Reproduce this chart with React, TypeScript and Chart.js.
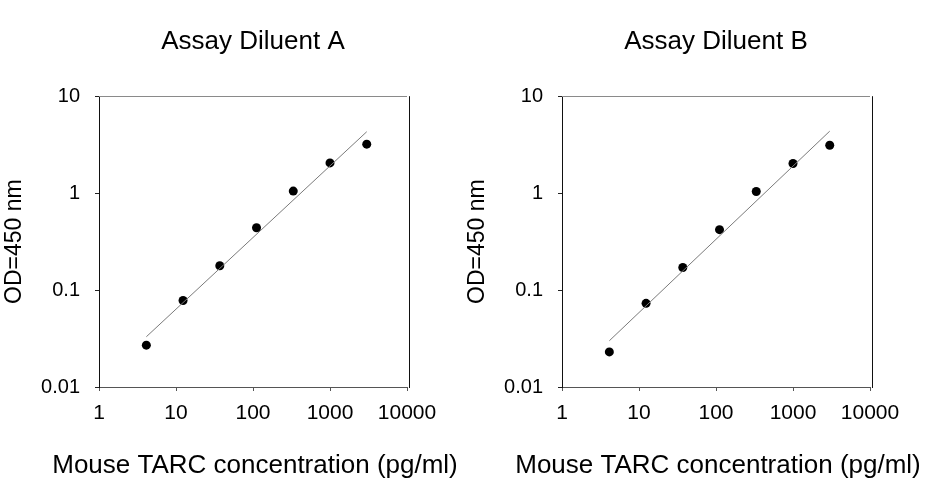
import React, { useEffect, useRef } from "react";
import { Chart, registerables } from "chart.js";

Chart.register(...registerables);

const concentrations = [4.12, 12.35, 37.04, 111.1, 333.3, 1000, 3000];
const odDiluentA = [0.027, 0.078, 0.178, 0.44, 1.05, 2.05, 3.2];
const odDiluentB = [0.023, 0.073, 0.171, 0.42, 1.04, 2.02, 3.12];
const fitX = [4.12, 3000];
const fitDiluentA = [0.033, 4.3];
const fitDiluentB = [0.03, 4.36];
const xTickValues = [1, 10, 100, 1000, 10000];
const yTickValues = [0.01, 0.1, 1, 10];
const xAxisTitle = "Mouse TARC concentration (pg/ml)";
const yAxisTitle = "OD=450 nm";

const FONT = "Arial, Helvetica, sans-serif";

const framePlugin = {
  id: "frame",
  afterDatasetsDraw(chart: any) {
    const { ctx, chartArea } = chart;
    const { left, right, top, bottom } = chartArea;
    ctx.save();
    ctx.lineWidth = 1;
    ctx.strokeStyle = "#8a8a8a";
    ctx.beginPath();
    ctx.moveTo(left, Math.round(top) + 0.5);
    ctx.lineTo(right, Math.round(top) + 0.5);
    ctx.stroke();
    ctx.strokeStyle = "#111";
    ctx.beginPath();
    ctx.moveTo(Math.round(right) + 2.5, top);
    ctx.lineTo(Math.round(right) + 2.5, bottom + 1);
    ctx.stroke();
    ctx.restore();
  },
  afterDraw(chart: any) {
    const { ctx, chartArea } = chart;
    ctx.save();
    ctx.fillStyle = "#000";
    ctx.font = `normal 26px ${FONT}`;
    ctx.textAlign = "center";
    ctx.textBaseline = "alphabetic";
    ctx.fillText(xAxisTitle, (chartArea.left + chartArea.right) / 2 + 2, 473);
    ctx.restore();
  },
};

function Panel({ title, values, fit }: { title: string; values: number[]; fit: number[] }) {
  const ref = useRef<HTMLCanvasElement | null>(null);
  useEffect(() => {
    if (!ref.current) return;
    const chart = new Chart(ref.current, {
      type: "scatter",
      data: {
        datasets: [
          {
            label: "fit",
            data: fitX.map((x, i) => ({ x, y: fit[i] })),
            showLine: true,
            borderColor: "#7a7a7a",
            borderWidth: 1,
            pointRadius: 0,
            fill: false,
          },
          {
            label: "data",
            data: concentrations.map((x, i) => ({ x, y: values[i] })),
            showLine: false,
            pointRadius: 4.5,
            pointBackgroundColor: "#000",
            pointBorderColor: "#000",
            pointBorderWidth: 0,
          },
        ],
      },
      options: {
        animation: false,
        responsive: false,
        devicePixelRatio: 1,
        layout: { padding: { left: 0, right: 56, top: 0, bottom: 0 } },
        plugins: {
          legend: { display: false },
          tooltip: { enabled: false },
          title: {
            display: true,
            text: title,
            fullSize: false,
            color: "#000",
            font: { family: FONT, size: 26, weight: "normal" },
            padding: { top: 26, bottom: 39 },
          },
        },
        scales: {
          x: {
            type: "logarithmic",
            min: 1,
            max: 10000,
            afterBuildTicks: (scale: any) => {
              scale.ticks = xTickValues.map((v) => ({ value: v }));
            },
            afterFit: (scale: any) => {
              scale.height = 93;
            },
            ticks: {
              color: "#000",
              font: { family: FONT, size: 21 },
              padding: 10,
              maxRotation: 0,
              autoSkip: false,
              callback: (v: any) => String(v),
            },
            grid: {
              drawOnChartArea: false,
              drawTicks: true,
              tickLength: 4,
              tickColor: "#555",
            },
            border: { display: true, color: "#555", width: 1 },
            title: { display: false },
          },
          y: {
            type: "logarithmic",
            min: 0.01,
            max: 10,
            afterBuildTicks: (scale: any) => {
              scale.ticks = yTickValues.map((v) => ({ value: v }));
            },
            afterFit: (scale: any) => {
              scale.width = 99;
            },
            ticks: {
              color: "#000",
              font: { family: FONT, size: 20 },
              padding: 15,
              autoSkip: false,
              callback: (v: any) => String(v),
            },
            grid: {
              drawOnChartArea: false,
              drawTicks: true,
              tickLength: 4,
              tickColor: "#222",
            },
            border: { display: true, color: "#111", width: 1 },
            title: {
              display: true,
              text: yAxisTitle,
              color: "#000",
              font: { family: FONT, size: 23 },
              padding: { top: 1, bottom: 0 },
            },
          },
        },
      },
      plugins: [framePlugin],
    } as any);
    return () => chart.destroy();
  }, [title, values, fit]);
  return <canvas ref={ref} width={463} height={480} style={{ width: 463, height: 480, display: "block" }} />;
}

export default function App() {
  useEffect(() => {
    document.body.style.margin = "0";
  }, []);
  return (
    <div style={{ display: "flex", width: 926, height: 480, background: "#fff" }}>
      <Panel title="Assay Diluent A" values={odDiluentA} fit={fitDiluentA} />
      <Panel title="Assay Diluent B" values={odDiluentB} fit={fitDiluentB} />
    </div>
  );
}
